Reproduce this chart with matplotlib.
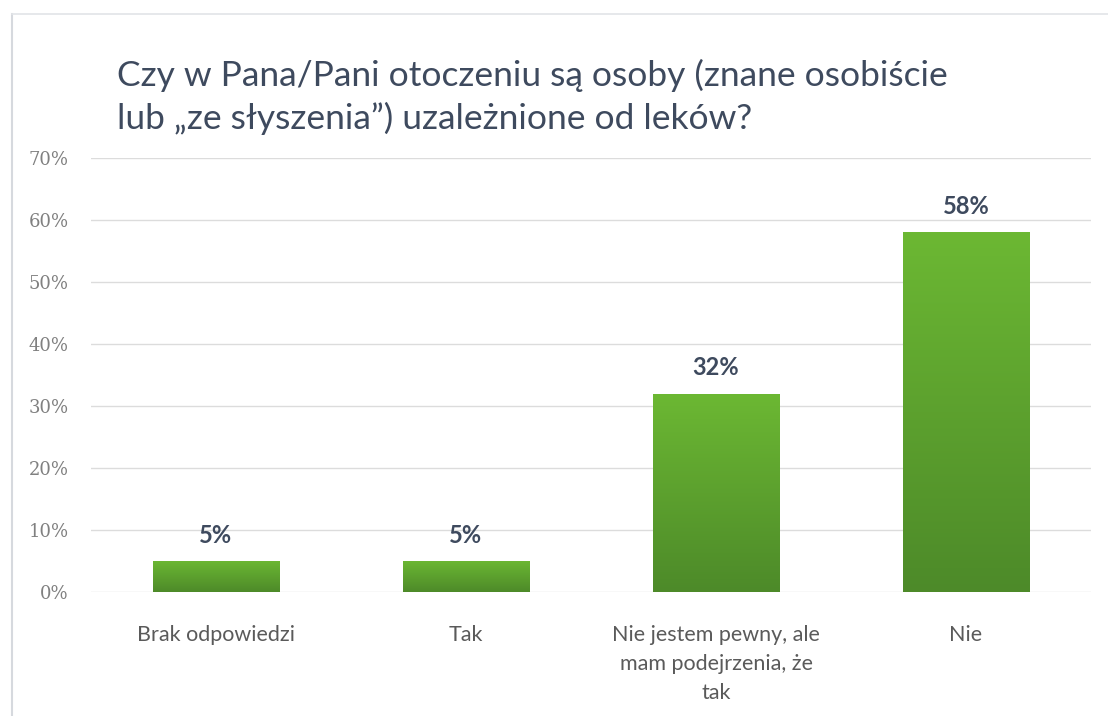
import matplotlib
matplotlib.use("Agg")
import matplotlib.pyplot as plt
import numpy as np
from matplotlib.lines import Line2D
from matplotlib.colors import LinearSegmentedColormap

categories = ["Brak odpowiedzi", "Tak", "Nie jestem pewny, ale\nmam podejrzenia, że\ntak", "Nie"]
values = [5, 5, 32, 58]
yticks = [0, 10, 20, 30, 40, 50, 60, 70]
title = "Czy w Pana/Pani otoczeniu są osoby (znane osobiście\nlub „ze słyszenia”) uzależnione od leków?"

fig = plt.figure(figsize=(11.08, 7.16), dpi=100)
fig.patch.set_facecolor("white")

# outer frame lines
fig.add_artist(Line2D([12/1108, 12/1108], [0, 1 - 14/716], transform=fig.transFigure, color="#d6d9de", lw=1.5))
fig.add_artist(Line2D([12/1108, 1], [1 - 14/716, 1 - 14/716], transform=fig.transFigure, color="#e2e4e8", lw=1.2))

ax = fig.add_axes([91/1108, 1 - 592/716, 1000/1108, (592 - 158)/716])
x = np.arange(len(categories))
bars = ax.bar(x, values, width=0.505, color="#5ca12f", zorder=2)

# vertical gradient on each bar
grad = np.linspace(0, 1, 256).reshape(-1, 1)
cmap = LinearSegmentedColormap.from_list("g", ["#4d8a29", "#6cb833"])
for b in bars:
    x0, y0 = b.get_x(), b.get_y()
    w, h = b.get_width(), b.get_height()
    im = ax.imshow(grad, extent=[x0, x0 + w, y0, y0 + h], origin="lower",
                   aspect="auto", cmap=cmap, zorder=3)
    im.set_clip_path(b)

for xi, v in zip(x, values):
    ax.text(xi, v + 2.3, f"{v}%", ha="center", va="bottom", fontsize=17,
            fontweight="bold", color="#3e4a5e", family="Lato")

ax.set_xlim(-0.5, len(categories) - 0.5)
ax.set_ylim(0, 70)
ax.set_yticks(yticks)
ax.set_yticklabels([f"{t}%" for t in yticks], family="DejaVu Serif", fontsize=13, color="#808080")
ax.set_xticks(x)
ax.set_xticklabels(categories, family="Lato", fontsize=15.5, color="#5a5a5a", linespacing=1.55)
ax.tick_params(axis="both", length=0)
ax.tick_params(axis="y", pad=16)
ax.tick_params(axis="x", pad=24)
ax.grid(axis="y", color="#dcdcdc", lw=1, zorder=0)
ax.set_axisbelow(True)
for s in ax.spines.values():
    s.set_visible(False)
ax.set_facecolor("none")

fig.text(117/1108, 1 - 97/716, title, ha="left", va="center", fontsize=25.5,
         color="#3e4a5e", family="Lato", linespacing=1.38)

fig.savefig("out.png", dpi=100)
